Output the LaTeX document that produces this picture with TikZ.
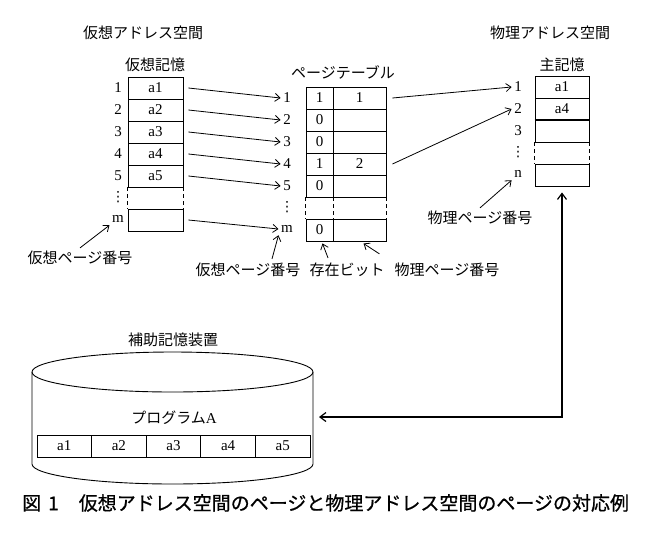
\documentclass[tikz,border=0pt]{standalone}
\usepackage{fontspec}
\setmainfont{Liberation Serif}
\newfontfamily\jp{Noto Sans CJK JP}
\newfontfamily\jpcap{Noto Sans CJK JP}[FakeBold=0.8]
\newfontfamily\dv{DejaVu Sans}
\usetikzlibrary{arrows.meta}
\begin{document}
\begin{tikzpicture}[x=1pt,y=-1pt,
  jl/.style={font=\jp\fontsize{15}{17}\selectfont, inner sep=1pt},
  nl/.style={font=\fontsize{15}{17}\selectfont, inner sep=2.5pt},
  vd/.style={font=\dv\fontsize{14}{16}\selectfont, inner sep=0pt},
  cell/.style={draw, line width=0.9pt, minimum height=22pt, inner sep=0pt, font=\fontsize{15}{17}\selectfont},
  arr/.style={line width=0.8pt, -{Straight Barb[length=5pt,width=8pt]}},
  dsh/.style={line width=0.9pt, dash pattern=on 4pt off 3pt},
]
\useasboundingbox (0,0) rectangle (656,539);

% titles
\node[jl] (t1) at (143,33) {仮想アドレス空間};
\node[jl] (t2) at (155,65) {仮想記憶};
\node[jl] (t3) at (343,72) {ページテーブル};
\node[jl] (t4) at (550,33) {物理アドレス空間};
\node[jl] (t5) at (562,65) {主記憶};

% virtual memory
\foreach \i/\t/\y in {1/a1/88,2/a2/110,3/a3/132,4/a4/154,5/a5/176}
  \node[cell, minimum width=55pt] (v\i) at (155.5,\y) {\t};
\node[cell, minimum width=55pt] (v7) at (155.5,220) {};
\draw[dsh] (v5.south west) -- (v7.north west);
\draw[dsh] (v5.south east) -- (v7.north east);
\foreach \i/\y in {1/88,2/110,3/132,4/154,5/176}
  \node[nl] (vl\i) at (118,\y) {\i};
\node[vd] (vl6) at (118,197) {⋮};
\node[nl] (vl7) at (118,219) {m};

% page table
\foreach \i/\y/\b/\p in {1/98/1/1,2/120/0/,3/142/0/,4/164/1/2,5/186/0/,7/230/0/}{
  \node[cell, minimum width=27pt] (b\i) at (319.5,\y) {\b};
  \node[cell, minimum width=53pt] (f\i) at (359.5,\y) {\p};
}
\draw[dsh] (b5.south west) -- (b7.north west);
\draw[dsh] (b5.south east) -- (b7.north east);
\draw[dsh] (f5.south east) -- (f7.north east);
\foreach \i/\y in {1/98,2/120,3/142,4/164,5/186}
  \node[nl] (pl\i) at (287,\y) {\i};
\node[vd] (pl6) at (287,207) {⋮};
\node[nl] (pl7) at (287,229) {m};

\foreach \i in {1,2,3,4,5,7}
  \draw[arr] ([xshift=5pt]v\i.east) -- (pl\i.west);

% physical memory
\node[cell, minimum width=54pt] (m1) at (562,87) {a1};
\node[cell, minimum width=54pt] (m2) at (562,109) {a4};
\node[cell, minimum width=54pt] (m3) at (562,131) {};
\node[cell, minimum width=54pt] (m5) at (562,175) {};
\draw[dsh] (m3.south west) -- (m5.north west);
\draw[dsh] (m3.south east) -- (m5.north east);
\draw[line width=2pt] (m2.south west) -- (m2.south east);
\node[nl] (ml1) at (518,87) {1};
\node[nl] (ml2) at (518,109) {2};
\node[nl] (ml3) at (518,131) {3};
\node[vd] (ml4) at (518,152) {⋮};
\node[nl] (ml5) at (518,174) {n};

\draw[arr] ([xshift=6pt]f1.east) -- (ml1.west);
\draw[arr] ([xshift=6pt]f4.east) -- (ml2.west);

% annotation labels
\node[jl] (lv) at (80,258) {仮想ページ番号};
\draw[arr] ([yshift=2pt]lv.north) -- (vl7.south west);
\node[jl] (lb1) at (248,270) {仮想ページ番号};
\draw[arr] ([xshift=24pt,yshift=3pt]lb1.north) -- (pl7.south west);
\node[jl] (lb2) at (347,270) {存在ビット};
\draw[arr] ([xshift=-19pt,yshift=4pt]lb2.north) -- ([xshift=3pt,yshift=-2pt]b7.south);
\node[jl] (lb3) at (447,270) {物理ページ番号};
\draw[arr] ([xshift=-14pt,yshift=8pt]lb3.north west) -- ([xshift=4pt,yshift=-2pt]f7.south);
\node[jl] (lp) at (480,218) {物理ページ番号};
\draw[arr] ([yshift=2pt]lp.north) -- (ml5.south west);

% auxiliary storage cylinder
\node[jl] (aux) at (173,340) {補助記憶装置};
\draw[line width=0.9pt] (32,372) -- (32,464) arc[start angle=180, end angle=360, x radius=140.5pt, y radius=20pt] -- (313,372);
\draw[line width=0.9pt] (172.5,372) ellipse [x radius=140.5pt, y radius=20pt];
\coordinate (cylR) at (313,417);
\node[jl] (prog) at (174,418) {プログラム\fontspec{Liberation Serif}A};
\foreach \i/\x in {1/64.3,2/118.9,3/173.5,4/228.1,5/282.7}
  \node[cell, minimum width=54.6pt] (d\i) at (\x,446) {a\i};

% transfer arrow
\draw[line width=1.2pt, {Straight Barb[length=6pt,width=9pt]}-{Straight Barb[length=6pt,width=9pt]}, shorten <=6pt, shorten >=6pt] (cylR) -| (m5.south);

% caption
\node[font=\jpcap\fontsize{19}{22}\selectfont, anchor=west, inner sep=0pt] (cap) at (22,503) {図\hspace{7pt}1\hspace{20pt}仮想アドレス空間のページと物理アドレス空間のページの対応例};
\end{tikzpicture}
\end{document}
